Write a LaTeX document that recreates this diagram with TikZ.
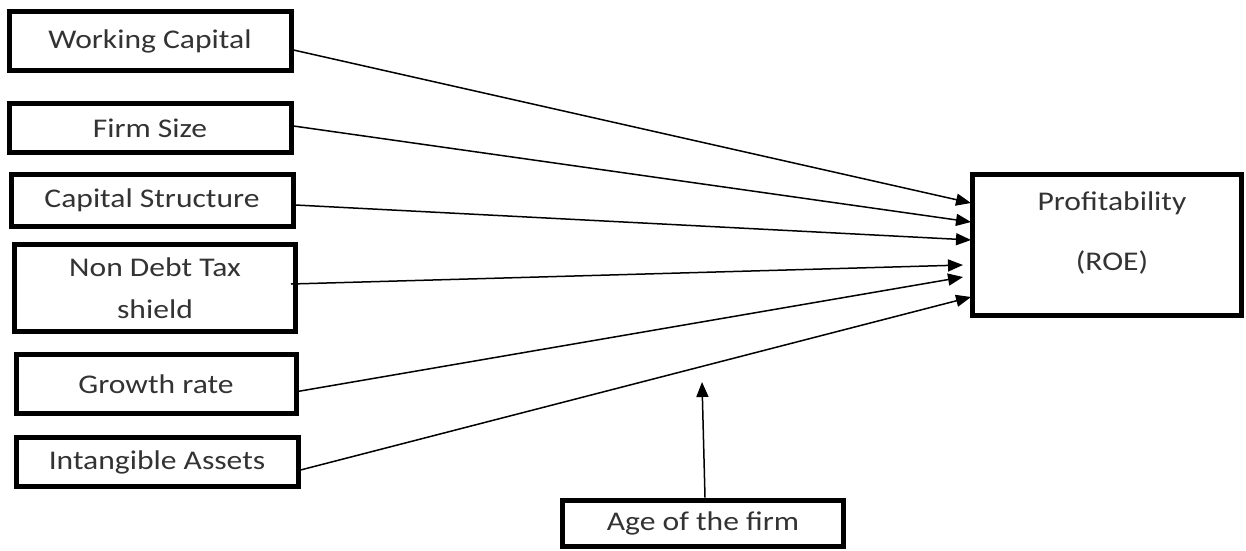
\documentclass[tikz,border=0pt]{standalone}
\usepackage{fontspec}
\setmainfont{Carlito}[FakeStretch=1.17]
\usetikzlibrary{arrows.meta}
\begin{document}
\begin{tikzpicture}[x=1pt,y=-1pt,
  box/.style={draw=black, line width=5pt, fill=white, inner sep=0pt, font=\fontsize{27}{32}\selectfont, text=black!80},
  conn/.style={draw=black, line width=1.5pt, -{Triangle[length=15pt,width=12pt]}},
  lbl/.style={inner sep=0pt, font=\fontsize{27}{32}\selectfont, text=black!80, align=center}]
\useasboundingbox (0,0) rectangle (1246,550);
\fill[white] (0,0) rectangle (1246,550);
\node[box, minimum width=282, minimum height=59] (wc) at (150,41) {Working Capital};
\node[box, minimum width=282, minimum height=49] (fs) at (150,128) {Firm Size};
\node[box, minimum width=282, minimum height=52] (cs) at (152,200) {Capital Structure};
\node[box, minimum width=281, minimum height=87, align=center] (nd) at (155,288) {Non Debt Tax\\[10pt]shield};
\node[box, minimum width=280, minimum height=59] (gr) at (156,384) {Growth rate};
\node[box, minimum width=282, minimum height=49] (ia) at (157,462) {Intangible Assets};
\node[box, minimum width=269, minimum height=141] (pr) at (1107,245) {};
\node[lbl] (prt) at (1112,233) {Profitability\\[28pt](ROE)};
\node[box, minimum width=281, minimum height=46] (age) at (703,523) {Age of the firm};
\coordinate (e1) at (971,203);
\coordinate (e2) at (971,222);
\coordinate (e3) at (971,240);
\coordinate (e4) at (963,265);
\coordinate (e5) at (963,277);
\coordinate (e6) at (971,297);
\coordinate (e7) at (702,382);
\draw[conn] ([yshift=-9pt]wc.east) -- (e1);
\draw[conn] ([yshift=2pt]fs.east) -- (e2);
\draw[conn] ([yshift=-5pt]cs.east) -- (e3);
\draw[conn] ([yshift=4pt,xshift=-7pt]nd.east) -- (e4);
\draw[conn] ([yshift=-8pt,xshift=-4pt]gr.east) -- (e5);
\draw[conn] ([yshift=-8pt]ia.east) -- (e6);
\draw[conn] ([xshift=2pt]age.north) -- (e7);
\end{tikzpicture}
\end{document}
